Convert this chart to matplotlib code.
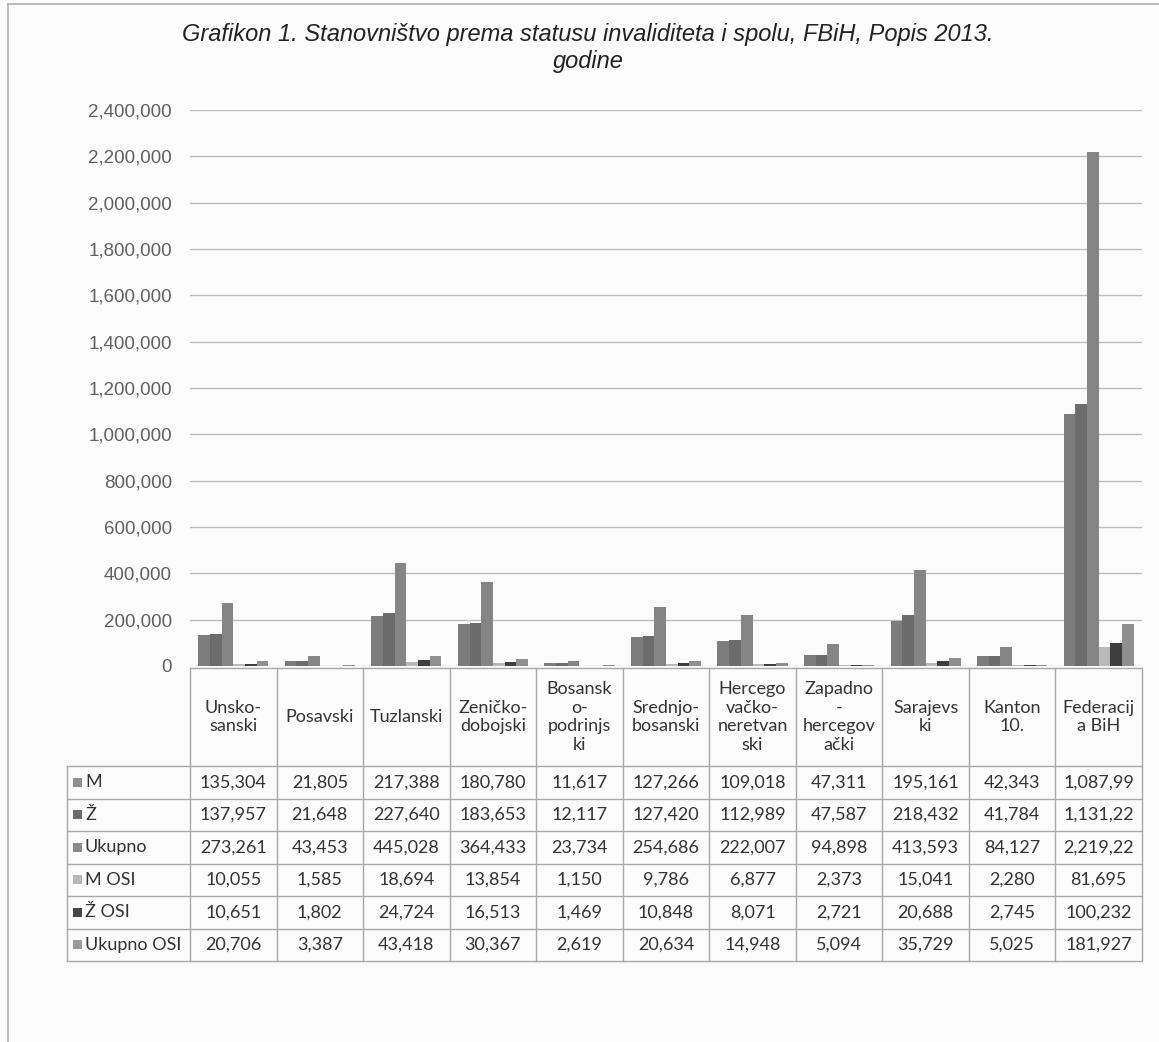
import matplotlib
matplotlib.use("Agg")
import matplotlib.pyplot as plt
from matplotlib.patches import Rectangle
from matplotlib.lines import Line2D
import numpy as np

# ---------------- data ----------------
categories = ["Unsko-\nsanski", "Posavski", "Tuzlanski", "Zeničko-\ndobojski",
              "Bosansk\no-\npodrinjs\nki", "Srednjo-\nbosanski", "Hercego\nvačko-\nneretvan\nski",
              "Zapadno\n-\nhercegov\nački", "Sarajevs\nki", "Kanton\n10.", "Federacij\na BiH"]
series_names = ["M", "Ž", "Ukupno", "M OSI", "Ž OSI", "Ukupno OSI"]
M = [135304, 21805, 217388, 180780, 11617, 127266, 109018, 47311, 195161, 42343, 1087993]
Z = [137957, 21648, 227640, 183653, 12117, 127420, 112989, 47587, 218432, 41784, 1131227]
Ukupno = [273261, 43453, 445028, 364433, 23734, 254686, 222007, 94898, 413593, 84127, 2219220]
M_OSI = [10055, 1585, 18694, 13854, 1150, 9786, 6877, 2373, 15041, 2280, 81695]
Z_OSI = [10651, 1802, 24724, 16513, 1469, 10848, 8071, 2721, 20688, 2745, 100232]
Ukupno_OSI = [20706, 3387, 43418, 30367, 2619, 20634, 14948, 5094, 35729, 5025, 181927]
series = [M, Z, Ukupno, M_OSI, Z_OSI, Ukupno_OSI]
colors = ["#7d7d7d", "#6c6c6c", "#858585", "#b9b9b9", "#3e3e3e", "#909090"]
key_colors = ["#8e8e8e", "#6a6a6a", "#8a8a8a", "#b8b8b8", "#454545", "#9a9a9a"]
yticks = [0, 200000, 400000, 600000, 800000, 1000000, 1200000, 1400000,
          1600000, 1800000, 2000000, 2200000, 2400000]
title = "Grafikon 1. Stanovništvo prema statusu invaliditeta i spolu, FBiH, Popis 2013.\ngodine"

# ---------------- layout ----------------
W, H = 1159, 1042
fig = plt.figure(figsize=(W / 100, H / 100), dpi=100)
fig.patch.set_facecolor("#fcfcfc")

def fx(px):
    return px / W

def fy(py):
    return 1 - py / H

ax_l, ax_r, ax_t, ax_b = 190, 1142, 110, 666
ax = fig.add_axes([fx(ax_l), fy(ax_b), fx(ax_r) - fx(ax_l), fy(ax_t) - fy(ax_b)])
ax.set_facecolor("none")

n = len(categories)
x = np.arange(n)
bw = 0.135
offsets = (np.arange(6) - 2.5) * bw
for s, vals in enumerate(series):
    ax.bar(x + offsets[s], vals, width=bw, color=colors[s], linewidth=0, zorder=3)

ax.set_xlim(-0.5, n - 0.5)
ax.set_ylim(0, 2400000)
ax.set_yticks(yticks)
ax.set_yticklabels([f"{v:,}" for v in yticks], fontsize=13.5,
                   family="Liberation Sans", color="#606060")
ax.tick_params(axis="y", length=0, pad=13)
ax.set_xticks([])
ax.grid(axis="y", color="#bdbdbd", linewidth=1.0, zorder=0)
for sp in ax.spines.values():
    sp.set_visible(False)

# ---------------- data table ----------------
tbl_color = "#a8a8a8"
hdr_top = 668
row_top = 766
row_h = 32.5
lab_l = 67
nrows = len(series)
tbl_bot = row_top + nrows * row_h

def col_px(i):
    return ax_l + (ax_r - ax_l) * (i + 0.5) / n

col_edges = [ax_l + (ax_r - ax_l) * i / n for i in range(n + 1)]

def hline(py, x0, x1):
    fig.add_artist(Line2D([fx(x0), fx(x1)], [fy(py), fy(py)], color=tbl_color,
                          linewidth=1.0, transform=fig.transFigure))

def vline(px, y0, y1):
    fig.add_artist(Line2D([fx(px), fx(px)], [fy(y0), fy(y1)], color=tbl_color,
                          linewidth=1.0, transform=fig.transFigure))

hline(hdr_top, col_edges[0], col_edges[-1])
for r in range(nrows + 1):
    hline(row_top + r * row_h, lab_l, col_edges[-1])
for ce in col_edges:
    vline(ce, hdr_top, tbl_bot)
vline(lab_l, row_top, tbl_bot)

tfont = dict(family=["Lato", "DejaVu Sans"], fontsize=13, color="#333333")
for i, cat in enumerate(categories):
    fig.text(fx(col_px(i)), fy((hdr_top + row_top) / 2), cat, ha="center", va="center",
             linespacing=1.2, **tfont)

def fmt(v):
    s = f"{v:,}"
    return s[:8] if len(s) > 8 else s

for r, (name, vals) in enumerate(zip(series_names, series)):
    cy = row_top + (r + 0.5) * row_h
    fig.add_artist(Rectangle((fx(lab_l + 6), fy(cy + 4.5)), fx(9), 9 / H,
                             facecolor=key_colors[r], edgecolor="none",
                             transform=fig.transFigure))
    fig.text(fx(lab_l + 18), fy(cy), name, ha="left", va="center", **tfont)
    for i, v in enumerate(vals):
        fig.text(fx(col_px(i)), fy(cy), fmt(v), ha="center", va="center", **tfont)

# ---------------- title & frame ----------------
fig.text(fx(588), fy(48), title, ha="center", va="center", fontsize=17,
         style="italic", family="Liberation Sans", color="#222222", linespacing=1.25)

fig.add_artist(Line2D([fx(8), fx(W)], [fy(4), fy(4)], color="#b0b0b0", linewidth=1.2,
                      transform=fig.transFigure))
fig.add_artist(Line2D([fx(8), fx(8)], [fy(4), fy(H)], color="#b0b0b0", linewidth=1.2,
                      transform=fig.transFigure))

fig.savefig("out.png", dpi=100, facecolor=fig.get_facecolor())
